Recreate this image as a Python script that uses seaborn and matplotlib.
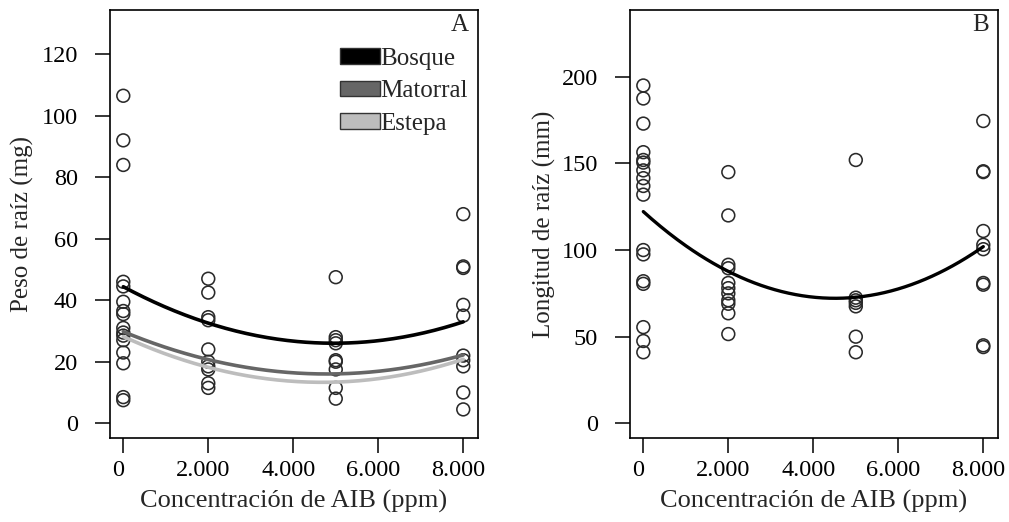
import numpy as np
import pandas as pd
import matplotlib
matplotlib.use("Agg")
import matplotlib.pyplot as plt
import matplotlib.transforms as mtransforms
from matplotlib.patches import Patch
import seaborn as sns

# ---------------- data ----------------
conc_levels = [0, 2000, 5000, 8000]
x_tick_labels = ["0", "2.000", "4.000", "6.000", "8.000"]
x_ticks = [0, 2000, 4000, 6000, 8000]

peso_0 = [106.5, 92, 84, 46, 44.5, 39.5, 36.5, 35.5, 31, 29.5, 28.5, 27, 23, 19.5, 8.5, 7.5]
peso_2000 = [47, 42.5, 34.5, 33.5, 24, 20, 18.5, 17.5, 13, 11.5]
peso_5000 = [47.5, 28, 27, 26, 20.5, 20, 17.5, 11.5, 8]
peso_8000 = [68, 51, 50.5, 38.5, 35, 22, 20.5, 18.5, 10, 4.5]

long_0 = [195, 187.5, 173, 156.5, 152, 150.5, 146, 141.5, 137, 132, 100, 97.5, 82, 80.5, 55.5, 47.5, 41]
long_2000 = [145, 120, 91.5, 89.5, 81, 78, 75, 71, 69, 63.5, 51.5]
long_5000 = [152, 72.5, 71, 69.5, 67.5, 50, 41]
long_8000 = [174.5, 145.5, 145, 111, 103, 100.5, 81, 80, 45, 44]

# fitted quadratic curves: intercept, linear, quadratic coefficients
sites = ["Bosque", "Matorral", "Estepa"]
site_colors = ["#000000", "#666666", "#bdbdbd"]
coef_bosque = [44.4, -0.007422, 7.495e-7]
coef_matorral = [29.8, -0.00575, 6.0e-7]
coef_estepa = [28.2, -0.0063595, 6.792e-7]
coef_longitud = [122.2, -0.022168, 2.455e-6]

y_ticks_peso = [0, 20, 40, 60, 80, 100, 120]
y_ticks_long = [0, 50, 100, 150, 200]

# ---------------- frames ----------------
def points_df(groups):
    xs, ys = [], []
    for lvl, vals in zip(conc_levels, groups):
        xs += [lvl] * len(vals)
        ys += vals
    return pd.DataFrame({"x": xs, "y": ys})

df_peso = points_df([peso_0, peso_2000, peso_5000, peso_8000])
df_long = points_df([long_0, long_2000, long_5000, long_8000])

xgrid = np.linspace(0, 8000, 200)
def curve(c):
    return c[0] + c[1] * xgrid + c[2] * xgrid ** 2

curves = []
for s, c in zip(sites, [coef_bosque, coef_matorral, coef_estepa]):
    curves.append(pd.DataFrame({"x": xgrid, "y": curve(c), "site": s}))
df_curves = pd.concat(curves, ignore_index=True)
df_curve_long = pd.DataFrame({"x": xgrid, "y": curve(coef_longitud)})

# ---------------- style ----------------
sns.set_style("ticks")
plt.rcParams["font.family"] = ["Liberation Serif", "DejaVu Serif"]
FS = 18
TFS = 17.5

fig = plt.figure(figsize=(10.09, 5.22), dpi=100)
ax1 = fig.add_axes([0.109, 0.1609, 0.3644, 0.82])
ax2 = fig.add_axes([0.6244, 0.1609, 0.3644, 0.82])

mk = dict(marker="o", s=85, facecolors="none", edgecolor="#2a2a2a", linewidth=1.15)

# panel A
sns.lineplot(data=df_curves, x="x", y="y", hue="site", palette=dict(zip(sites, site_colors)),
             hue_order=sites[::-1], linewidth=2.6, ax=ax1, legend=False)
sns.scatterplot(data=df_peso, x="x", y="y", ax=ax1, **mk)
ax1.set_xlim(-313, 8339)
ax1.set_ylim(-4.8, 134.4)
ax1.set_yticks(y_ticks_peso)
ax1.set_ylabel("Peso de raíz (mg)", fontsize=FS)
ax1.text(0.975, 0.99, "A", transform=ax1.transAxes, ha="right", va="top", fontsize=FS)

handles = [Patch(facecolor=c, edgecolor="#333333", linewidth=1.0) for c in site_colors]
leg = ax1.legend(handles, sites, loc="upper right", bbox_to_anchor=(1.0, 0.935),
                 frameon=False, fontsize=FS, handlelength=1.6, handleheight=0.6,
                 handletextpad=0.0, labelspacing=0.42, borderaxespad=0.0)

# panel B
sns.lineplot(data=df_curve_long, x="x", y="y", color="black", linewidth=2.4, ax=ax2)
sns.scatterplot(data=df_long, x="x", y="y", ax=ax2, **mk)
ax2.set_xlim(-313, 8339)
ax2.set_ylim(-8.5, 238.6)
ax2.set_yticks(y_ticks_long)
ax2.set_ylabel("Longitud de raíz (mm)", fontsize=FS)
ax2.text(0.975, 0.99, "B", transform=ax2.transAxes, ha="right", va="top", fontsize=FS)

shift = mtransforms.ScaledTranslation(-5 / 100, 0, fig.dpi_scale_trans)
for ax, ylx in [(ax1, -0.207), (ax2, -0.201)]:
    ax.set_xticks(x_ticks)
    ax.set_xticklabels(x_tick_labels)
    ax.set_xlabel("Concentración de AIB (ppm)", fontsize=19)
    ax.xaxis.set_label_coords(0.5, -0.122)
    ax.yaxis.set_label_coords(ylx, 0.5)
    ax.tick_params(axis="x", direction="out", length=11, width=1.1, pad=5, labelsize=TFS, colors="black")
    ax.tick_params(axis="y", direction="out", length=11, width=1.1, pad=12, labelsize=TFS, colors="black")
    for lab in ax.get_xticklabels():
        lab.set_transform(lab.get_transform() + shift)
    for sp in ax.spines.values():
        sp.set_visible(True)
        sp.set_linewidth(1.2)
        sp.set_color("black")

fig.savefig("out.png", dpi=100)
